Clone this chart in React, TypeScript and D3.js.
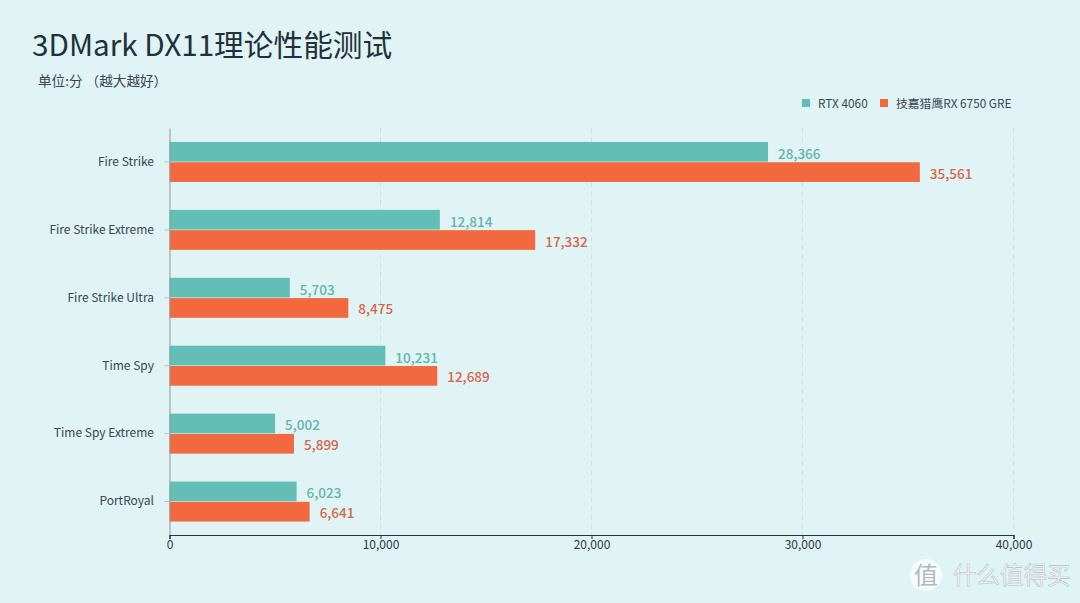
import { useEffect, useRef } from "react";
import * as d3 from "d3";

const categories = ["Fire Strike", "Fire Strike Extreme", "Fire Strike Ultra", "Time Spy", "Time Spy Extreme", "PortRoyal"];
const rtx4060 = [28366, 12814, 5703, 10231, 5002, 6023];
const rx6750 = [35561, 17332, 8475, 12689, 5899, 6641];
const xTicks = [0, 10000, 20000, 30000, 40000];
const seriesNames = ["RTX 4060", "技嘉猎鹰RX 6750 GRE"];

const WIDTH = 1080;
const HEIGHT = 603;
const BG = "#e0f3f5";
const TEAL = "#63bfb5";
const ORANGE = "#f2693f";
const FONT = "'Noto Sans CJK SC', 'Noto Sans', sans-serif";

export default function App() {
  const svgRef = useRef<SVGSVGElement | null>(null);

  useEffect(() => {
    if (!svgRef.current) return;
    const svg = d3.select(svgRef.current);
    svg.selectAll("*").remove();
    svg.attr("font-family", FONT);

    svg.append("rect").attr("width", WIDTH).attr("height", HEIGHT).attr("fill", BG);

    const x = d3.scaleLinear().domain([0, 40000]).range([169.5, 1013.5]);
    const y = d3.scaleBand().domain(categories).range([128, 535.5]);
    const inner = d3.scaleBand().domain(["a", "b"]).range([0, 40]).paddingInner(0.03);
    const fmt = d3.format(",");

    // title
    svg.append("text").attr("x", 32).attr("y", 56).attr("font-size", 29.7).attr("fill", "#22303a").text("3DMark DX11理论性能测试");
    svg.append("text").attr("x", 38).attr("y", 86).attr("font-size", 13.6).attr("fill", "#3a4650").text("单位:分 （越大越好）");

    // gridlines
    svg.append("g")
      .selectAll("line")
      .data(xTicks.slice(1))
      .join("line")
      .attr("x1", (d: number) => x(d))
      .attr("x2", (d: number) => x(d))
      .attr("y1", 128)
      .attr("y2", 535)
      .attr("stroke", "#d2e2e4")
      .attr("stroke-width", 1)
      .attr("stroke-dasharray", "5,4");

    // bars
    const rows = svg.append("g")
      .selectAll("g")
      .data(categories)
      .join("g")
      .attr("transform", (d: string) => `translate(0,${(y(d) ?? 0) + y.bandwidth() / 2 - 20})`);

    rows.append("rect")
      .attr("x", x(0))
      .attr("y", inner("a"))
      .attr("height", inner.bandwidth())
      .attr("width", (_d: string, i: number) => x(rtx4060[i]) - x(0))
      .attr("fill", TEAL);
    rows.append("rect")
      .attr("x", x(0))
      .attr("y", inner("b"))
      .attr("height", inner.bandwidth())
      .attr("width", (_d: string, i: number) => x(rx6750[i]) - x(0))
      .attr("fill", ORANGE);

    rows.append("text")
      .attr("x", (_d: string, i: number) => x(rtx4060[i]) + 10)
      .attr("y", (inner("a") ?? 0) + inner.bandwidth() / 2 + 7)
      .attr("font-size", 13.5)
      .attr("font-weight", 500)
      .attr("fill", "#63b5ab")
      .text((_d: string, i: number) => fmt(rtx4060[i]));
    rows.append("text")
      .attr("x", (_d: string, i: number) => x(rx6750[i]) + 10)
      .attr("y", (inner("b") ?? 0) + inner.bandwidth() / 2 + 6.5)
      .attr("font-size", 13.5)
      .attr("font-weight", 500)
      .attr("fill", "#d9644a")
      .text((_d: string, i: number) => fmt(rx6750[i]));

    // y axis
    const yAxis = svg.append("g")
      .attr("transform", `translate(${x(0)},0)`)
      .call(d3.axisLeft(y).tickSizeInner(5).tickSizeOuter(0).tickPadding(10.5));
    yAxis.select(".domain").attr("stroke", "#8a979c").attr("stroke-width", 1);
    yAxis.selectAll(".tick line").attr("stroke", "#b5c4c7");
    yAxis.selectAll("text").attr("font-size", 12).attr("font-family", FONT).attr("fill", "#3a4650");

    // x axis
    const xAxis = svg.append("g")
      .attr("transform", "translate(0,535)")
      .call(d3.axisBottom(x).tickValues(xTicks).tickFormat((d: any) => fmt(d)).tickSize(4).tickPadding(1));
    xAxis.select(".domain").attr("stroke", "#27343b").attr("stroke-width", 1.2);
    xAxis.selectAll(".tick line").attr("stroke", "#27343b");
    xAxis.selectAll("text").attr("font-size", 12).attr("font-family", FONT).attr("fill", "#2b3840");

    // legend
    const legendX = [802, 880];
    const legend = svg.append("g")
      .selectAll("g")
      .data(seriesNames)
      .join("g")
      .attr("transform", (_d: string, i: number) => `translate(${legendX[i]},99)`);
    legend.append("rect")
      .attr("width", 8)
      .attr("height", 8)
      .attr("fill", (_d: string, i: number) => (i === 0 ? TEAL : ORANGE));
    legend.append("text")
      .attr("x", 16)
      .attr("y", 8.5)
      .attr("font-size", 11.8)
      .attr("fill", "#3a4650")
      .text((d: string) => d);

    // watermark
    const mark = svg.append("g");
    mark.append("circle").attr("cx", 926).attr("cy", 575).attr("r", 16).attr("fill", "#f8fbfb");
    mark.append("text").attr("x", 926).attr("y", 584).attr("text-anchor", "middle").attr("font-size", 24).attr("fill", "#aebcbe").text("值");
    mark.append("text")
      .attr("x", 953)
      .attr("y", 584)
      .attr("font-size", 23.5)
      .attr("fill", "#fafcfc")
      .attr("stroke", "#b4c2c4")
      .attr("stroke-width", 0.6)
      .text("什么值得买");
  }, []);

  return (
    <svg
      ref={svgRef}
      width={WIDTH}
      height={HEIGHT}
      style={{ position: "absolute", left: 0, top: 0, display: "block" }}
    />
  );
}
